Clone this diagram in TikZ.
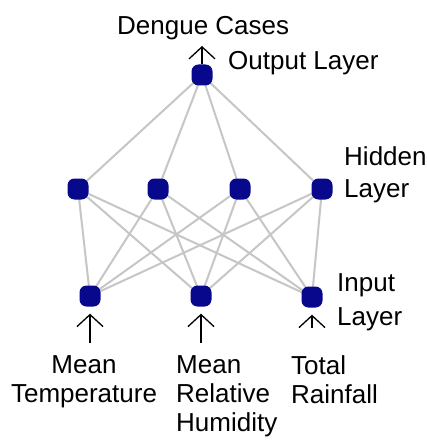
\documentclass[tikz,border=0pt]{standalone}
\usepackage{fontspec}
\setmainfont{Liberation Sans}
\usetikzlibrary{arrows.meta,backgrounds}

\definecolor{neuron}{RGB}{8,8,140}
\definecolor{synapse}{RGB}{198,198,198}

\begin{document}
\begin{tikzpicture}[x=1pt,y=-1pt,
  neuronnode/.style={fill=neuron,draw=none,rectangle,rounded corners=7pt,minimum size=21pt,inner sep=0pt},
  weight/.style={draw=synapse,line width=2pt},
  signal/.style={draw=black,line width=1.3pt,-{Straight Barb[length=12pt,width=26pt]}},
  caption/.style={font=\fontsize{26}{29}\selectfont,inner sep=0pt},
]
\useasboundingbox (0,0) rectangle (426,441);

% neurons
\node[neuronnode] (o)  at (202,75) {};
\node[neuronnode] (h1) at (78,189) {};
\node[neuronnode] (h2) at (158,189) {};
\node[neuronnode] (h3) at (240,189) {};
\node[neuronnode] (h4) at (322,189) {};
\node[neuronnode] (i1) at (90,296) {};
\node[neuronnode] (i2) at (201,296) {};
\node[neuronnode] (i3) at (312,297) {};

% weighted connections, kept behind the neurons
\begin{scope}[on background layer]
\fill[white] (0,0) rectangle (426,441);
\foreach \h in {h1,h2,h3,h4}{
  \draw[weight] (o.center) -- (\h.center);
  \foreach \i in {i1,i2,i3}{
    \draw[weight] (\h.center) -- (\i.center);
  }
}
\end{scope}

% signal arrows
\coordinate (outtip) at (202,46);
\draw[signal] (o.north) -- (outtip);
\coordinate (in1) at (90,343);
\coordinate (in2) at (201,343);
\coordinate (in3) at (312,328);
\draw[signal,shorten >=7pt] (in1) -- (i1.south);
\draw[signal,shorten >=7pt] (in2) -- (i2.south);
\draw[signal,shorten >=7pt] (in3) -- (i3.south);

% labels
\node[caption,anchor=base west] (lout) at (117,35) {Dengue Cases};
\node[caption,anchor=base west] (lol) at (228,70) {Output Layer};
\node[caption,anchor=north west,align=left,font=\fontsize{26}{32}\selectfont] (lhl) at (344,146) {Hidden\\Layer};
\node[caption,anchor=north west,align=left,font=\fontsize{26}{34}\selectfont] (lil) at (337,273) {Input\\Layer};
\node[caption,anchor=north,align=center] (lt) at (84,355) {Mean\\Temperature};
\node[caption,anchor=north west,align=left] (lh) at (176,355) {Mean\\Relative\\Humidity};
\node[caption,anchor=north west,align=left] (lr) at (291,355) {Total\\Rainfall};
\end{tikzpicture}
\end{document}
